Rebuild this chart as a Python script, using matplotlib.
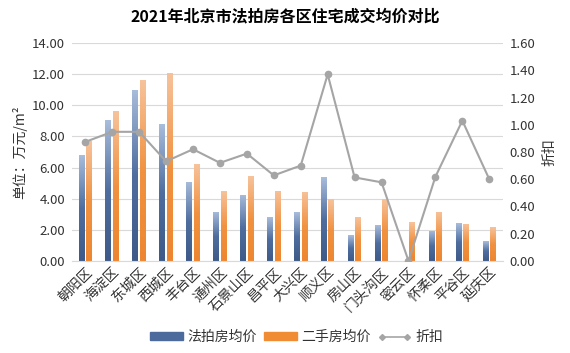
import matplotlib
matplotlib.use('Agg')
import matplotlib.pyplot as plt
from matplotlib.colors import LinearSegmentedColormap
from matplotlib.lines import Line2D
import numpy as np

plt.rcParams['font.family'] = ['Noto Sans CJK SC', 'DejaVu Sans']

# data
districts = ['朝阳区', '海淀区', '东城区', '西城区', '丰台区', '通州区', '石景山区', '昌平区',
             '大兴区', '顺义区', '房山区', '门头沟区', '密云区', '怀柔区', '平谷区', '延庆区']
auction_price = [6.78, 9.05, 11.0, 8.77, 5.10, 3.17, 4.26, 2.80,
                 3.11, 5.37, 1.67, 2.30, 0.0, 1.93, 2.43, 1.25]
resale_price = [7.7, 9.63, 11.6, 12.05, 6.20, 4.46, 5.45, 4.52,
                4.45, 3.95, 2.79, 3.95, 2.47, 3.16, 2.40, 2.15]
discount = [0.874, 0.948, 0.948, 0.731, 0.82, 0.72, 0.788, 0.628,
            0.70, 1.37, 0.613, 0.577, 0.0, 0.618, 1.03, 0.60]

blue = '#4C6A9C'
orange = '#F08C34'
gray = '#A5A5A5'
txt = '#333333'

blue_grad = LinearSegmentedColormap.from_list('b', ['#3E5A88', '#4F6E9F', '#A8BCDB'])
orange_grad = LinearSegmentedColormap.from_list('o', ['#EE8630', '#F19241', '#F7C29A'])


def gradient_bars(ax, bars, cmap):
    # paint each bar with a vertical gradient clipped to the bar shape
    grad = np.linspace(0, 1, 64).reshape(-1, 1)
    for b in bars:
        x0, y0 = b.get_x(), b.get_y()
        w, h = b.get_width(), b.get_height()
        if h <= 0:
            continue
        b.set_facecolor('none')
        im = ax.imshow(grad, cmap=cmap, aspect='auto', origin='lower',
                       extent=[x0, x0 + w, y0, y0 + h], zorder=2)
        im.set_clip_path(b)


fig = plt.figure(figsize=(5.7, 3.53), dpi=100)
ax = fig.add_axes([0.126, 0.261, 0.756, 0.617])
ax2 = ax.twinx()

x = np.arange(len(districts))
w = 0.22
bars1 = ax.bar(x - 0.14, auction_price, w, color=blue, lw=0, label='法拍房均价', zorder=2)
bars2 = ax.bar(x + 0.14, resale_price, w, color=orange, lw=0, label='二手房均价', zorder=2)
ax2.plot(x, discount, color=gray, lw=1.5, marker='o', ms=4.5, zorder=3)

ax.set_xlim(-0.5, len(districts) - 0.5)
ax.set_ylim(0, 14)
gradient_bars(ax, bars1, blue_grad)
gradient_bars(ax, bars2, orange_grad)
ax.set_xlim(-0.5, len(districts) - 0.5)
ax.set_ylim(0, 14)

ax.set_yticks(np.arange(0, 14.01, 2))
ax.set_yticklabels(['%.2f' % v for v in np.arange(0, 14.01, 2)], fontsize=9.5, color=txt)
ax2.set_ylim(0, 1.6)
ax2.set_yticks(np.arange(0, 1.601, 0.2))
ax2.set_yticklabels(['%.2f' % v for v in np.arange(0, 1.601, 0.2)], fontsize=9.5, color=txt)

ax.set_xticks(x)
ax.set_xticklabels(districts, rotation=45, ha='right', rotation_mode='anchor', fontsize=10, color=txt)

ax.grid(axis='y', color='#D9D9D9', lw=0.8, zorder=0)
ax.set_axisbelow(True)
for a in (ax, ax2):
    for s in a.spines.values():
        s.set_visible(False)
    a.tick_params(length=0)
ax.spines['bottom'].set_visible(True)
ax.spines['bottom'].set_color('#D9D9D9')
ax.tick_params(axis='x', pad=3)
ax.tick_params(axis='y', pad=5)
ax2.tick_params(axis='y', pad=5)

ax.set_ylabel('单位：万元/m²', fontsize=10, color=txt, labelpad=3)
ax2.set_ylabel('折扣', fontsize=10, color=txt, labelpad=5)

fig.suptitle('2021年北京市法拍房各区住宅成交均价对比', fontsize=11.5, fontweight='bold', y=0.975, x=0.5)

handles = [plt.Rectangle((0, 0), 1, 1, color=blue),
           plt.Rectangle((0, 0), 1, 1, color=orange),
           Line2D([], [], color=gray, lw=1.2, marker='D', ms=3)]
fig.legend(handles, ['法拍房均价', '二手房均价', '折扣'], loc='lower center',
           bbox_to_anchor=(0.52, -0.01), ncol=3, frameon=False, fontsize=10,
           handlelength=2.4, handleheight=0.5, handletextpad=0.3, columnspacing=0.5,
           numpoints=2, labelcolor=txt)

fig.savefig('out.png', dpi=100)
